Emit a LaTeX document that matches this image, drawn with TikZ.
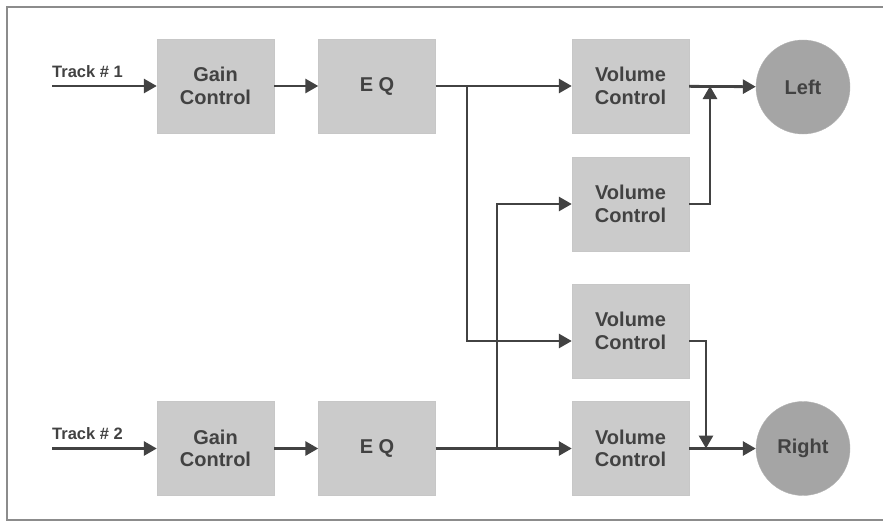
\documentclass[tikz,border=0pt]{standalone}
\usepackage{fontspec}
\setmainfont{Liberation Sans}
\usetikzlibrary{positioning, arrows.meta, calc}

\definecolor{boxgray}{RGB}{203,203,203}
\definecolor{ballgray}{RGB}{165,165,165}
\definecolor{inkgray}{RGB}{66,66,66}

\begin{document}
\begin{tikzpicture}[x=1pt, y=-1pt,
	block/.style={draw=black!22, fill=boxgray, minimum width=117pt, minimum height=94pt, inner sep=0pt, align=center, text=inkgray, font=\bfseries\fontsize{20}{22.5}\selectfont},
	speaker/.style={circle, draw=black!30, fill=ballgray, minimum size=94pt, inner sep=0pt, text=inkgray, font=\bfseries\fontsize{20}{22.5}\selectfont},
	wire/.style={draw=inkgray, line width=2.8pt, -{Triangle[length=13pt, width=14pt]}},
	tracklabel/.style={anchor=base west, inner sep=0pt, text=inkgray, font=\bfseries\fontsize{16.5}{19}\selectfont}]
	\useasboundingbox (0,0) rectangle (883,522);
	% frame
	\draw[black!45, line width=1.8pt] (883,7) -- (7,7) -- (7,520) -- (883,520);
	% blocks
	\node[block] (gainA) at (215.5,86) {Gain\\Control};
	\node[block] (eqA) at (377,86) {E Q};
	\node[block] (gainB) at (215.5,448.5) {Gain\\Control};
	\node[block] (eqB) at (377,448.5) {E Q};
	\node[block] (volA) at (630.5,86) {Volume\\Control};
	\node[block] (volB) at (630.5,204) {Volume\\Control};
	\node[block] (volC) at (630.5,331) {Volume\\Control};
	\node[block] (volD) at (630.5,448.5) {Volume\\Control};
	\node[speaker] (left) at (803,87) {Left};
	\node[speaker] (right) at (803,448.5) {Right};
	% inputs
	\coordinate (inA) at (52,86);
	\coordinate (inB) at (52,448.5);
	\node[tracklabel] (trackA) at ($(inA)+(0,-9)$) {Track \# 1};
	\node[tracklabel] (trackB) at ($(inB)+(0,-9)$) {Track \# 2};
	% junctions
	\coordinate (splitA) at (467,86);
	\coordinate (splitB) at (497,448.5);
	\coordinate (joinA) at (710,86);
	\coordinate (joinB) at (706,448.5);
	% connections
	\draw[wire] (inA) -- (gainA);
	\draw[wire] (gainA) -- (eqA);
	\draw[wire] (eqA) -- (volA);
	\draw[wire] (volA) -- (left);
	\draw[wire] (inB) -- (gainB);
	\draw[wire] (gainB) -- (eqB);
	\draw[wire] (eqB) -- (volD);
	\draw[wire] (volD) -- (right);
	\draw[wire] (splitA) |- ([yshift=-10pt]volC.west);
	\draw[wire] (splitB) |- (volB.west);
	\draw[wire] (volB.east) -| (joinA);
	\draw[wire] ([yshift=-10pt]volC.east) -| (joinB);
\end{tikzpicture}
\end{document}
